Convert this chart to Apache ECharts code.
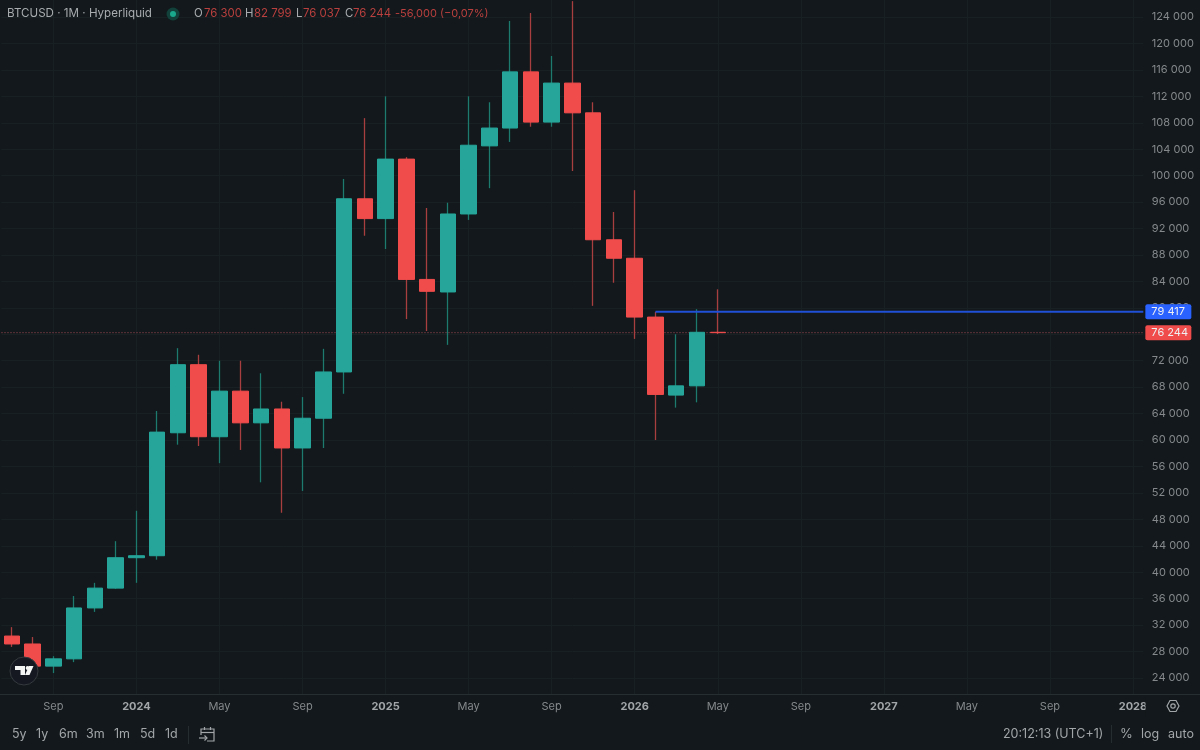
<!DOCTYPE html>
<html><head><meta charset="utf-8">
<style>html,body{margin:0;padding:0;background:#12181b}#c{width:1200px;height:750px}</style>
<script src="https://cdn.jsdelivr.net/npm/echarts@6/dist/echarts.min.js"></script>
</head><body><div id="c"></div>
<script>
const categories = ['2023-07','2023-08','2023-09','2023-10','2023-11','2023-12',
 '2024-01','2024-02','2024-03','2024-04','2024-05','2024-06','2024-07','2024-08','2024-09','2024-10','2024-11','2024-12',
 '2025-01','2025-02','2025-03','2025-04','2025-05','2025-06','2025-07','2025-08','2025-09','2025-10','2025-11','2025-12',
 '2026-01','2026-02','2026-03','2026-04','2026-05','2026-06','2026-07','2026-08','2026-09','2026-10','2026-11','2026-12',
 '2027-01','2027-02','2027-03','2027-04','2027-05','2027-06','2027-07','2027-08','2027-09','2027-10','2027-11','2027-12','2028-01'];
const opens  = [30350,29150,25800,26900,34600,37600,42200,42500,61100,71400,60500,67400,62600,64700,58800,63300,70300,96500,93500,102500,84300,82400,94200,104500,107200,115700,108100,114000,109500,90300,87500,78600,66800,68200,76300];
const closes = [29150,25800,26900,34600,37600,42200,42500,61200,71400,60500,67400,62600,64700,58800,63300,70300,96500,93500,102500,84300,82500,94200,104600,107200,115700,108100,114000,109500,90300,87500,78600,66900,68200,76300,76244];
const lows   = [28700,25300,24750,26400,34000,37500,38400,41900,59300,59100,56500,58500,53600,49000,52300,58800,67000,90900,88900,78300,76500,74400,93300,98100,105100,107400,107400,100700,80300,83800,75300,60000,64900,65700,76037];
const highs  = [31700,30200,27300,36400,38400,44700,49300,64400,73900,72900,72000,72000,70100,65800,66500,73800,99500,108700,112000,102800,95100,95900,112000,111100,123400,124600,118100,126400,111100,94500,97800,79400,76000,79800,82799];
const priceTicks = [24000,28000,32000,36000,40000,44000,48000,52000,56000,60000,64000,68000,72000,76000,80000,84000,88000,92000,96000,100000,104000,108000,112000,116000,120000,124000];
const xTickLabels = ['Sep','2024','May','Sep','2025','May','Sep','2026','May','Sep','2027','May','Sep','2028'];
const blueLevel = 79417, lastClose = 76244;
const headerTitle = 'BTCUSD · 1M · Hyperliquid';
const ohlcText = [['O','76 300',194,204],['H','82 799',245,254],['L','76 037',296,303],['C','76 244',345,353]];
const changeText = '-56,000 (−0,07%)';
const rangeButtons = [['5y',12],['1y',36],['6m',59],['3m',86],['1m',114],['5d',140],['1d',165]];

const UP='#26a69a', DOWN='#f04c4c', BG='#12181b', TXT='#a2a6a9', FONT='Inter, "Noto Sans", sans-serif';
const fmt = v => String(v).replace(/\B(?=(\d{3})+$)/g,' ');
const candleData = opens.map((o,i)=>[o,closes[i],lows[i],highs[i]]);
const bodyData = opens.map((o,i)=>[o,closes[i],Math.min(o,closes[i]),Math.max(o,closes[i])]);
const txt=(x,y,text,fill,size,extra)=>({type:'text',z:100,x,y,style:Object.assign({text,fill,font:(size||12)+'px '+FONT,textVerticalAlign:'middle'},extra||{})});
const line=(x1,y1,x2,y2,stroke,w)=>({type:'line',z:100,shape:{x1,y1,x2,y2},style:{stroke,lineWidth:w||1,fill:null}});

const graphics=[
 {type:'rect',z:90,shape:{x:1145.5,y:697,width:24,height:20},style:{fill:BG}},
 line(0,694.5,1200,694.5,'#272e32'),
 txt(7,14,headerTitle,'#a8acaf',11.6),
 {type:'circle',z:100,shape:{cx:173,cy:14,r:6.5},style:{fill:'#12403a'}},
 {type:'circle',z:101,shape:{cx:173,cy:14,r:3},style:{fill:'#1aa88c'}},
 txt(395,14,changeText,'#b9403f',11),
 line(188.5,726,188.5,744,'#262d31'),
 line(1111.5,725,1111.5,743,'#262d31'),
 txt(1003,734,'20:12:13 (UTC+1)',TXT,12.5),
 txt(1120,734,'%',TXT,13),
 txt(1141,734,'log',TXT,12.5),
 txt(1168,734,'auto',TXT,12.5),
 // TradingView badge
 {type:'circle',z:100,shape:{cx:24,cy:671,r:14},style:{fill:'#151820',stroke:'#343a3e',lineWidth:1}},
 {type:'polygon',z:101,shape:{points:[[15,666],[25,666],[25,675],[20.5,675],[20.5,670],[15,670]]},style:{fill:'#f4f5f5'}},
 {type:'circle',z:101,shape:{cx:27.6,cy:668,r:2},style:{fill:'#f4f5f5'}},
 {type:'polygon',z:101,shape:{points:[[29,666],[33.5,666],[29.5,675],[25,675]]},style:{fill:'#f4f5f5'}},
 // calendar icon
 {type:'polyline',z:100,shape:{points:[[201,735],[201,729],[214,729],[214,741],[207,741]]},style:{stroke:TXT,lineWidth:1.2,fill:null}},
 line(201,732.5,214,732.5,TXT,1.2),
 line(204.5,727,204.5,730,TXT,1.2),
 line(210.5,727,210.5,730,TXT,1.2),
 line(199,738,207,738,TXT,1.2),
 {type:'polyline',z:100,shape:{points:[[204.5,735.5],[207,738],[204.5,740.5]]},style:{stroke:TXT,lineWidth:1.2,fill:null}},
 // settings icon
 {type:'polygon',z:100,shape:{points:[[1167,706],[1170,700.5],[1176,700.5],[1179,706],[1176,711.5],[1170,711.5]]},style:{stroke:TXT,lineWidth:1.2,fill:null}},
 {type:'circle',z:100,shape:{cx:1173,cy:706,r:2.2},style:{stroke:TXT,lineWidth:1.2,fill:null}}
];
ohlcText.forEach(([k,v,kx,vx])=>{graphics.push(txt(kx,14,k,'#a8acaf',11.4));graphics.push(txt(vx,14,v,'#b9403f',11.4));});
rangeButtons.forEach(([t,x])=>graphics.push(txt(x,734,t,TXT,12.5)));

const chart=echarts.init(document.getElementById('c'),null,{renderer:'canvas'});
const tagLabel=(bg,val)=>({show:true,formatter:()=>fmt(val),color:'#eef0f2',backgroundColor:bg,fontFamily:FONT,fontSize:11,
  padding:[2,6,2,6],borderRadius:2,distance:2,width:34,align:'left'});
chart.setOption({
 animation:false,backgroundColor:BG,
 graphic:graphics,
 grid:{left:1.5,top:0,width:1141.85,height:695,containLabel:false},
 xAxis:[{type:'category',data:categories,boundaryGap:true,
   axisLine:{show:false},axisTick:{show:false},
   axisLabel:{interval:(i)=>i%4===2,margin:6,fontFamily:FONT,fontSize:11,color:'#85898c',showMaxLabel:true,hideOverlap:false,
     formatter:(v,i)=>{const t=xTickLabels[(categories.indexOf(v)-2)/4];return /^\d/.test(t)?'{y|'+t+'}':t;},
     rich:{y:{fontFamily:FONT,fontSize:11,fontWeight:'bold',color:'#a2a6a9'}}},
   splitLine:{show:true,alignWithLabel:true,interval:(i)=>i%4===2,lineStyle:{color:'#192024',width:1}}},
  {type:'value',min:0,max:55,show:false,splitLine:{show:false}}],
 yAxis:{type:'value',position:'right',min:21430,max:126570,scale:true,
   axisLine:{show:false},
   axisTick:{show:false,customValues:priceTicks},
   axisLabel:{customValues:priceTicks,margin:8.5,formatter:fmt,fontFamily:FONT,fontSize:11,color:'#85898c'},
   splitLine:{show:true,lineStyle:{color:'#192024',width:1}}},
 series:[
  {type:'line',name:'last',xAxisIndex:1,data:[[0,lastClose],[55,lastClose]],symbol:'none',silent:true,z:1,
    lineStyle:{color:'#a84a5c',width:1,type:[1,2]},endLabel:tagLabel(DOWN,lastClose)},
  {type:'candlestick',name:'wicks',data:candleData,barWidth:1,z:2,silent:true,
    itemStyle:{color:'#1d7a6e',color0:'#a83e40',borderColor:'#1d7a6e',borderColor0:'#a83e40',borderWidth:1.3}},
  {type:'candlestick',name:'BTCUSD',data:bodyData,barWidth:16,z:3,silent:true,
    itemStyle:{color:UP,color0:DOWN,borderColor:UP,borderColor0:DOWN,borderWidth:1}},
  {type:'line',name:'level',xAxisIndex:1,data:[[31.5,blueLevel],[55,blueLevel]],symbol:'none',silent:true,z:4,
    lineStyle:{color:'#2150d8',width:2},endLabel:tagLabel('#2962ff',blueLevel)}
 ]
});
</script></body></html>
